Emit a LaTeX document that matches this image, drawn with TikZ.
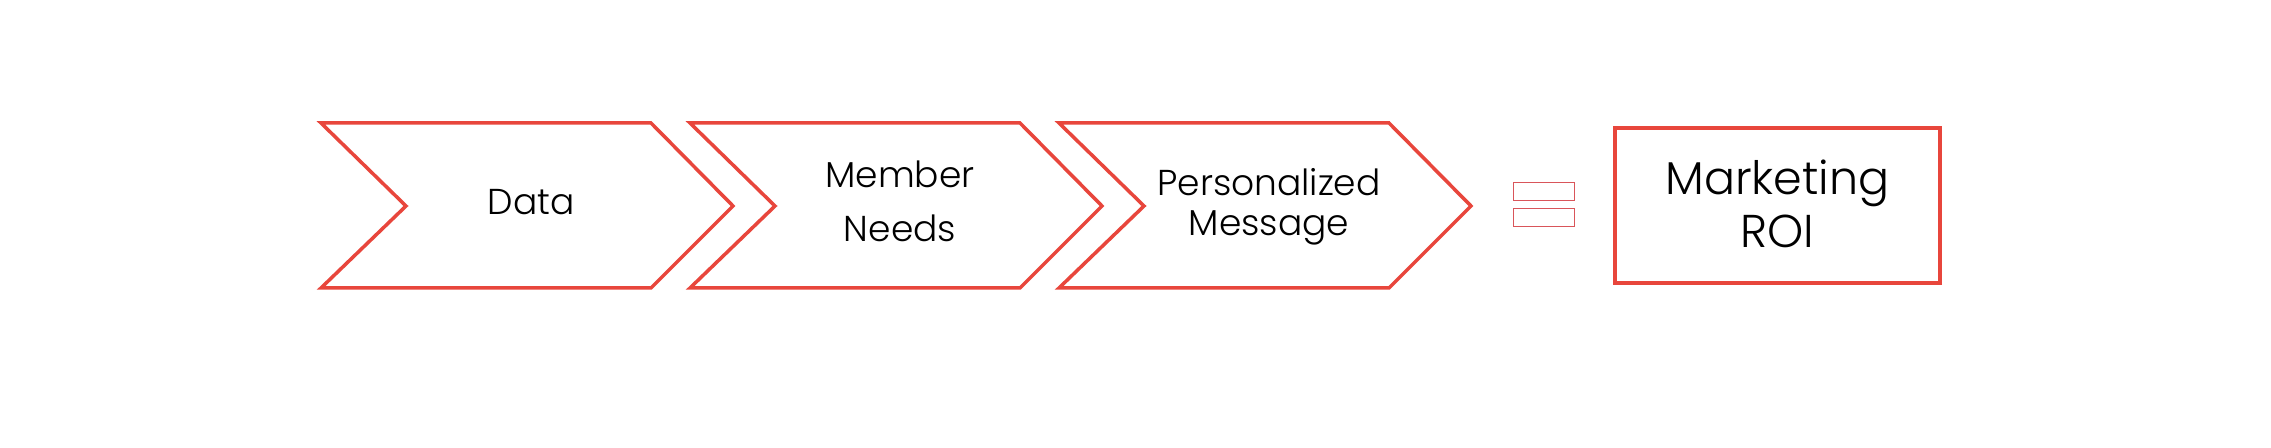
\documentclass[tikz,border=0pt]{standalone}
\usepackage{fontspec}
\setmainfont{Poppins}[UprightFont={* Light}]
\definecolor{chevred}{HTML}{E8463C}
\definecolor{eqred}{HTML}{D9555A}
\begin{document}
\begin{tikzpicture}[x=0.5pt,y=-0.5pt,
  chev/.style={draw=chevred, line width=1.75pt, line join=miter},
  eqbar/.style={draw=eqred, line width=0.5pt},
  roibox/.style={draw=chevred, line width=1.75pt, minimum width=162.5pt, minimum height=77.5pt, inner sep=0pt},
  lbl/.style={anchor=base, font=\fontsize{18}{22}\selectfont, inner sep=0pt, text=black},
  big/.style={anchor=base, font=\fontsize{23}{28}\selectfont, inner sep=0pt, text=black}]
\useasboundingbox (0,0) rectangle (2271,448);
\fill[white] (0,0) rectangle (2271,448);
\foreach \L in {321,690,1059}
  \draw[chev] (\L,123) -- (\L+330,123) -- (\L+412,206) -- (\L+330,288) -- (\L,288) -- (\L+85,206) -- cycle;
\node[lbl] (data) at (531,215) {Data};
\node[lbl] (member) at (900,188) {Member};
\node[lbl] (needs) at (900,242) {Needs};
\node[lbl] (pers) at (1269,196) {Personalized};
\node[lbl] (msg) at (1269,236) {Message};
\draw[eqbar] (1513,183) rectangle (1574,201);
\draw[eqbar] (1513,209) rectangle (1574,227);
\node[roibox] (roi) at (1777.5,205.5) {};
\node[big] (mkt) at (1777.5,195) {Marketing};
\node[big] (roitext) at (1777.5,248) {ROI};
\end{tikzpicture}
\end{document}
